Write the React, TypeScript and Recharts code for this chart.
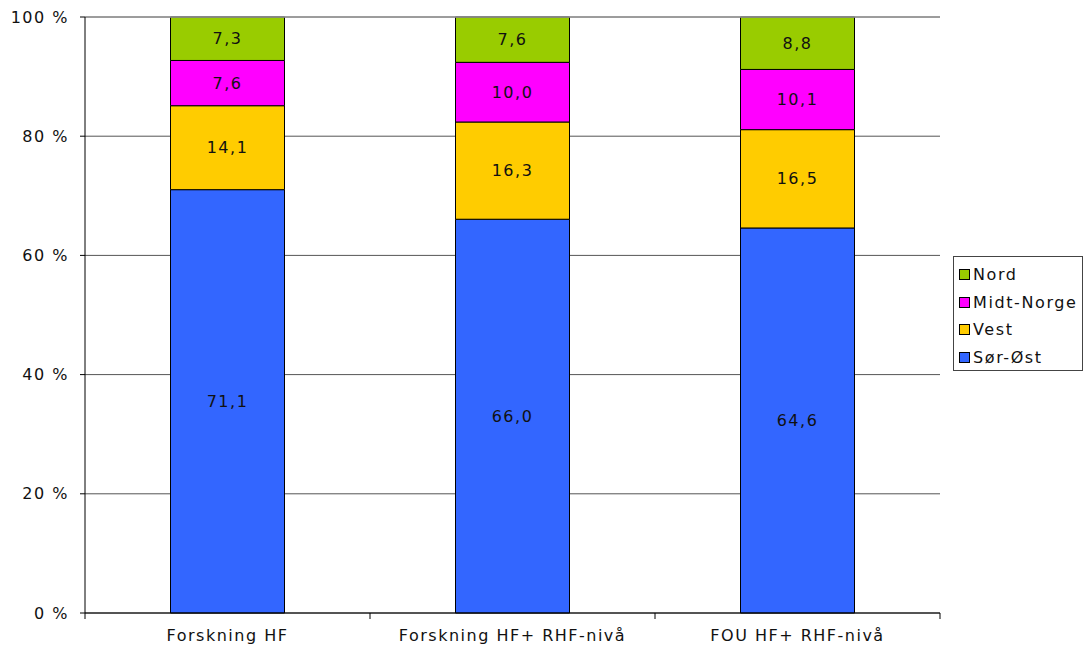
import React from "react";
import {
  BarChart,
  Bar,
  XAxis,
  YAxis,
  CartesianGrid,
  LabelList,
  ReferenceLine,
} from "recharts";

const categories = ["Forskning HF", "Forskning HF+ RHF-nivå", "FOU HF+ RHF-nivå"];
const sorOst = [71.1, 66.0, 64.6];
const vest = [14.1, 16.3, 16.5];
const midtNorge = [7.6, 10.0, 10.1];
const nord = [7.3, 7.6, 8.8];
const yTicks = [0, 0.2, 0.4, 0.6, 0.8, 1];

const series = [
  { key: "sorOst", name: "Sør-Øst", color: "#3366FF" },
  { key: "vest", name: "Vest", color: "#FFCC00" },
  { key: "midtNorge", name: "Midt-Norge", color: "#FF00FF" },
  { key: "nord", name: "Nord", color: "#99CC00" },
];

const data = categories.map((c, i) => ({
  name: c,
  sorOst: sorOst[i],
  vest: vest[i],
  midtNorge: midtNorge[i],
  nord: nord[i],
}));

const font = "'DejaVu Sans', Verdana, sans-serif";
const txt = { fill: "#111", fontSize: 16, fontFamily: font, letterSpacing: "1.5px" };
const fmt = (v: number) => v.toFixed(1).replace(".", ",");

const TICK_SIZE = 6;
const TICK_MARGIN = 11;

// category label plus tick marks on the band edges (Excel style)
function CategoryTick(props: any) {
  const { x, y, payload, index, width, visibleTicksCount } = props;
  const half = payload?.offset || width / visibleTicksCount / 2;
  const axisY = y - TICK_SIZE - TICK_MARGIN;
  return (
    <g>
      {index === 0 && (
        <line x1={x - half} x2={x - half} y1={axisY} y2={axisY + TICK_SIZE} stroke="#000" />
      )}
      <line x1={x + half} x2={x + half} y1={axisY} y2={axisY + TICK_SIZE} stroke="#000" />
      <text x={x} y={y} dy="0.71em" textAnchor="middle" style={txt}>
        {payload.value}
      </text>
    </g>
  );
}

function LegendBox() {
  // legend lists the top series first
  const items = [...series].reverse();
  return (
    <div
      style={{
        position: "absolute",
        left: 953,
        top: 256,
        width: 130,
        height: 115,
        border: "1px solid #444",
        background: "#fff",
        boxSizing: "border-box",
        padding: "4px 0 0 5px",
        fontFamily: font,
        fontSize: 16,
        letterSpacing: "1.6px",
        color: "#111",
      }}
    >
      {items.map((s) => (
        <div key={s.key} style={{ display: "flex", alignItems: "center", height: 27.5 }}>
          <span
            style={{
              display: "inline-block",
              width: 9,
              height: 9,
              background: s.color,
              border: "1px solid #000",
              marginRight: 3,
            }}
          />
          <span>{s.name}</span>
        </div>
      ))}
    </div>
  );
}

export default function App() {
  return (
    <div style={{ position: "absolute", left: 0, top: 0, width: 1084, height: 655, background: "#fff" }}>
      <BarChart
        width={1084}
        height={655}
        data={data}
        stackOffset="expand"
        barCategoryGap="30%"
        margin={{ top: 17, right: 144, left: 0, bottom: 0 }}
      >
        <CartesianGrid vertical={false} stroke="#555" />
        <ReferenceLine y={1} stroke="#999" strokeWidth={1.5} />
        <XAxis
          dataKey="name"
          height={42}
          tickLine={false}
          tickSize={TICK_SIZE}
          tickMargin={TICK_MARGIN}
          axisLine={{ stroke: "#000" }}
          tick={<CategoryTick />}
          interval={0}
        />
        <YAxis
          width={85}
          domain={[0, 1]}
          ticks={yTicks}
          tickSize={5}
          tickMargin={11}
          tickFormatter={(v: number) => `${Math.round(v * 100)} %`}
          tick={txt}
          tickLine={{ stroke: "#000" }}
          axisLine={{ stroke: "#000" }}
        />
        <YAxis
          yAxisId="r"
          orientation="right"
          width={0}
          tick={false}
          tickLine={false}
          axisLine={{ stroke: "#999", strokeWidth: 1.5 }}
        />
        {series.map((s) => (
          <Bar
            key={s.key}
            dataKey={s.key}
            name={s.name}
            stackId="a"
            fill={s.color}
            stroke="#000"
            strokeWidth={1}
            isAnimationActive={false}
          >
            <LabelList
              dataKey={s.key}
              position="center"
              formatter={(v: number) => fmt(v)}
              style={txt}
            />
          </Bar>
        ))}
      </BarChart>
      <LegendBox />
    </div>
  );
}
